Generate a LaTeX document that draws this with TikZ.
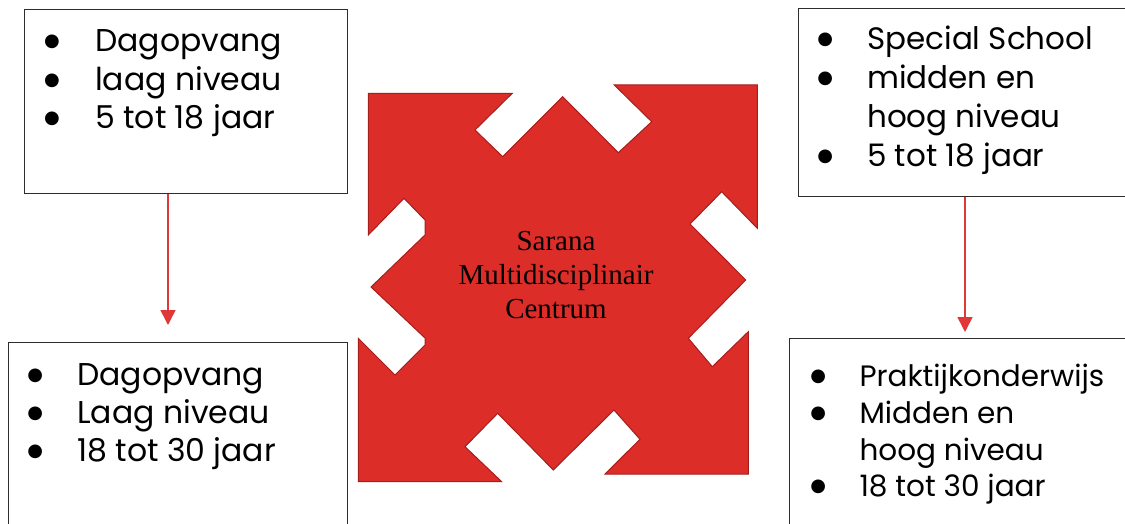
\documentclass[tikz,border=0pt]{standalone}
\usepackage{fontspec}
\usetikzlibrary{arrows.meta}
\newfontfamily\cgfont{Poppins}
\newfontfamily\dvsfont{DejaVu Sans}
\newfontfamily\tmsfont{Liberation Serif}
\definecolor{shapered}{RGB}{221,45,41}
\definecolor{shapeedge}{RGB}{165,30,30}
\definecolor{arrowred}{RGB}{226,55,55}
\definecolor{boxline}{RGB}{45,45,45}
\newcommand\bulletchar{\raisebox{5pt}{\dvsfont\fontsize{18}{18}\selectfont ●}}
\newcommand\bul[1]{\llap{\makebox[0pt]{\bulletchar}\hspace{#1}}}
\tikzset{
  listbox/.style={draw=boxline, line width=1.3pt, anchor=north west, inner sep=0pt},
  listtext/.style={anchor=base west, inner sep=0pt, font=\cgfont},
  linkarrow/.style={draw=arrowred, line width=1.6pt, -{Triangle[width=15pt,length=15pt]}},
  centretext/.style={anchor=base, inner sep=0pt, font=\tmsfont}
}
\begin{document}
\begin{tikzpicture}[x=1pt,y=-1pt]
\useasboundingbox (0,0) rectangle (1125,524);
\clip (0,0) rectangle (1125,524);
% central red shape
\draw[fill=shapered, draw=shapeedge, line width=1pt, line join=miter]
 (368.3,93.3) -- (512.3,93.3) -- (475,130) -- (502.7,156.7) -- (562.7,96.7)
 -- (618.3,152.7) -- (651.7,121.7) -- (614.3,85) -- (757.3,85) -- (757.3,228.3)
 -- (721.7,191.7) -- (690,224) -- (745.7,280) -- (688.3,338.3) -- (712.3,366.7)
 -- (748.3,331.7) -- (748.3,474) -- (605,474) -- (640,439.3) -- (614,410)
 -- (553.3,470) -- (497.7,413.3) -- (465,446.7) -- (501.7,481.7) -- (358.3,481.7)
 -- (358.3,338.3) -- (395,375) -- (425,345) -- (425,338) -- (371,287)
 -- (425,235) -- (425,220) -- (404,198.3) -- (368.3,235) -- cycle;
\node[centretext] (centre) at (556,250) {\fontsize{29}{34}\selectfont
  \begin{tabular}[t]{@{}c@{}}Sarana\\Multidisciplinair\\Centrum\end{tabular}};
% boxes
\node[listbox, minimum width=323pt, minimum height=184pt] (b1) at (24,9) {};
\node[listbox, minimum width=340pt, minimum height=188pt] (b2) at (798,8) {};
\node[listbox, minimum width=339pt, minimum height=200pt] (b3) at (8,342) {};
\node[listbox, minimum width=350pt, minimum height=200pt] (b4) at (789,338) {};
% texts
\node[listtext] (t1) at (95,51.7) {\fontsize{31.5}{38.5}\selectfont
  \begin{tabular}[t]{@{}l@{}}\bul{43.3pt}Dagopvang\\\bul{43.3pt}laag niveau\\\bul{43.3pt}5 tot 18 jaar\end{tabular}};
\node[listtext] (t2) at (867,49.3) {\fontsize{31}{39.1}\selectfont
  \begin{tabular}[t]{@{}l@{}}\bul{42pt}Special School\\\bul{42pt}midden en\\hoog niveau\\\bul{42pt}5 tot 18 jaar\end{tabular}};
\node[listtext] (t3) at (77,385) {\fontsize{31.5}{38.3}\selectfont
  \begin{tabular}[t]{@{}l@{}}\bul{42pt}Dagopvang\\\bul{42pt}Laag niveau\\\bul{42pt}18 tot 30 jaar\end{tabular}};
\node[listtext] (t4) at (859.3,386.7) {\fontsize{29.5}{36.7}\selectfont
  \begin{tabular}[t]{@{}l@{}}\bul{41.3pt}Praktijkonderwijs\\\bul{41.3pt}Midden en\\hoog niveau\\\bul{41.3pt}18 tot 30 jaar\end{tabular}};
% connectors
\coordinate (a1end) at (168,325);
\coordinate (a2end) at (965,332);
\draw[linkarrow] ([xshift=144pt]b1.south west) -- (a1end);
\draw[linkarrow] ([xshift=167pt]b2.south west) -- (a2end);
\end{tikzpicture}
\end{document}
